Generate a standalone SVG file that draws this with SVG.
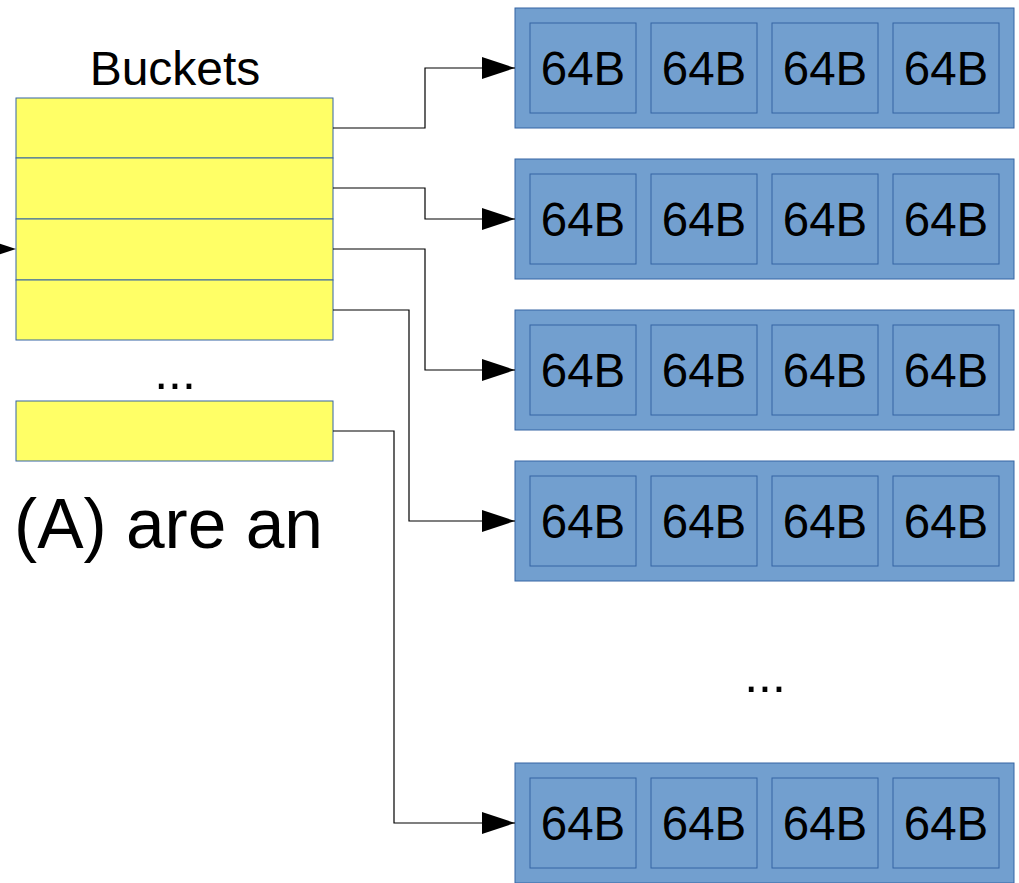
<svg xmlns="http://www.w3.org/2000/svg" width="1019" height="883" viewBox="0 0 1019 883">
  <style>
    .bucket { fill: #ffff66; stroke: #3465a4; stroke-width: 1; }
    .block { fill: #729fcf; stroke: #3465a4; stroke-width: 1; }
    .cell { fill: #729fcf; stroke: #3465a4; stroke-width: 1; }
    .lbl { font-family: "Liberation Sans", Arial, sans-serif; fill: #000; }
    .cellTxt { font-size: 47.5px; text-anchor: middle; }
    .wire { fill: none; stroke: #000; stroke-width: 1.2; }
  </style>
  <defs>
    <marker id="arrow" viewBox="0 0 33 22" refX="33" refY="11" markerWidth="33" markerHeight="22" markerUnits="userSpaceOnUse" orient="auto">
      <path d="M0,0 L33,11 L0,22 Z" fill="#000"/>
    </marker>
    <g id="cacheLine">
      <rect class="block" x="0" y="0" width="499" height="120"/>
      <rect class="cell" x="15" y="15" width="106" height="90"/>
      <rect class="cell" x="136" y="15" width="106" height="90"/>
      <rect class="cell" x="257" y="15" width="106" height="90"/>
      <rect class="cell" x="378" y="15" width="106" height="90"/>
      <text class="lbl cellTxt" x="68" y="77">64B</text>
      <text class="lbl cellTxt" x="189" y="77">64B</text>
      <text class="lbl cellTxt" x="310" y="77">64B</text>
      <text class="lbl cellTxt" x="431" y="77">64B</text>
    </g>
  </defs>

  <rect x="0" y="0" width="1019" height="883" fill="#fff"/>

  <!-- bucket array -->
  <g id="buckets">
    <text class="lbl" x="175" y="85" font-size="48" text-anchor="middle">Buckets</text>
    <rect class="bucket" x="16" y="98" width="317" height="60"/>
    <rect class="bucket" x="16" y="158" width="317" height="61"/>
    <rect class="bucket" x="16" y="219" width="317" height="61"/>
    <rect class="bucket" x="16" y="280" width="317" height="60"/>
    <text class="lbl" x="175" y="389" font-size="50" text-anchor="middle">...</text>
    <rect class="bucket" x="16" y="401" width="317" height="60"/>
  </g>

  <g id="caption">
    <text class="lbl" x="14" y="548" font-size="69.5">(A) are an</text>
  </g>

  <!-- cache line chains -->
  <g id="line1"><use href="#cacheLine" x="515" y="8"/></g>
  <g id="line2"><use href="#cacheLine" x="515" y="159"/></g>
  <g id="line3"><use href="#cacheLine" x="515" y="310"/></g>
  <g id="line4"><use href="#cacheLine" x="515" y="461"/></g>
  <g id="more"><text class="lbl" x="765" y="692" font-size="50" text-anchor="middle">...</text></g>
  <g id="line5"><use href="#cacheLine" x="515" y="763"/></g>

  <!-- connectors -->
  <g id="connectors">
    <polygon points="-17,238 16,249 -17,260" fill="#000"/>
    <polyline class="wire" points="333,128 425,128 425,68 515,68" marker-end="url(#arrow)"/>
    <polyline class="wire" points="333,188 425,188 425,219 515,219" marker-end="url(#arrow)"/>
    <polyline class="wire" points="333,249 425,249 425,370 515,370" marker-end="url(#arrow)"/>
    <polyline class="wire" points="333,310 409,310 409,521 515,521" marker-end="url(#arrow)"/>
    <polyline class="wire" points="333,431 394,431 394,823 515,823" marker-end="url(#arrow)"/>
  </g>
</svg>
